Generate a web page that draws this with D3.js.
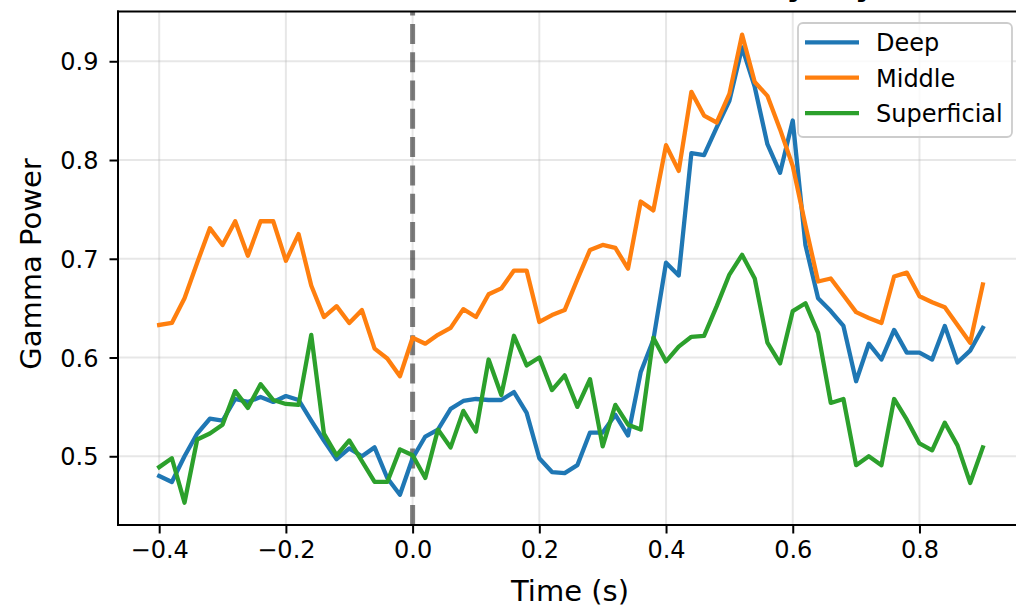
<!DOCTYPE html>
<html>
<head>
<meta charset="utf-8">
<script src="https://cdn.jsdelivr.net/npm/d3@7"></script>
<style>
  html, body { margin: 0; padding: 0; background: #fff; }
  svg { display: block; font-family: "DejaVu Sans", sans-serif; }
</style>
</head>
<body>
<svg id="chart" width="1016" height="608"></svg>
<script>
// ---------------- data ----------------
const times = [-0.40,-0.38,-0.36,-0.34,-0.32,-0.30,-0.28,-0.26,-0.24,-0.22,-0.20,-0.18,-0.16,-0.14,-0.12,-0.10,-0.08,-0.06,-0.04,-0.02,
  0.00,0.02,0.04,0.06,0.08,0.10,0.12,0.14,0.16,0.18,0.20,0.22,0.24,0.26,0.28,0.30,0.32,0.34,0.36,0.38,
  0.40,0.42,0.44,0.46,0.48,0.50,0.52,0.54,0.56,0.58,0.60,0.62,0.64,0.66,0.68,0.70,0.72,0.74,0.76,0.78,
  0.80,0.82,0.84,0.86,0.88,0.90];

const deep = [0.480,0.474,0.500,0.523,0.538,0.536,0.558,0.555,0.560,0.555,0.561,0.557,0.536,0.516,0.497,0.508,0.500,0.509,0.478,0.461,
  0.498,0.520,0.527,0.548,0.556,0.558,0.557,0.557,0.565,0.544,0.498,0.484,0.483,0.491,0.524,0.524,0.542,0.521,0.585,0.618,
  0.696,0.683,0.807,0.805,0.833,0.860,0.914,0.874,0.816,0.787,0.840,0.714,0.660,0.647,0.632,0.576,0.614,0.598,0.628,0.605,
  0.605,0.598,0.632,0.595,0.607,0.630];

const middle = [0.633,0.635,0.660,0.696,0.731,0.714,0.738,0.703,0.738,0.738,0.698,0.725,0.673,0.641,0.652,0.635,0.648,0.609,0.599,0.581,
  0.620,0.614,0.623,0.630,0.649,0.641,0.664,0.670,0.688,0.688,0.636,0.643,0.648,0.679,0.709,0.714,0.711,0.690,0.758,0.749,
  0.815,0.789,0.869,0.845,0.838,0.867,0.927,0.879,0.865,0.831,0.794,0.734,0.677,0.680,0.663,0.646,0.640,0.635,0.682,0.686,
  0.662,0.656,0.651,0.633,0.615,0.674];

const superficial = [0.489,0.498,0.453,0.517,0.523,0.532,0.566,0.549,0.573,0.557,0.553,0.552,0.623,0.523,0.501,0.516,0.495,0.474,0.474,0.507,
  0.501,0.478,0.527,0.509,0.546,0.525,0.598,0.562,0.622,0.592,0.600,0.567,0.582,0.550,0.578,0.510,0.552,0.532,0.527,0.620,
  0.596,0.611,0.621,0.622,0.652,0.684,0.704,0.680,0.615,0.594,0.647,0.655,0.625,0.554,0.558,0.491,0.500,0.491,0.558,0.537,
  0.513,0.506,0.534,0.511,0.473,0.509];

const seriesNames = ["Deep", "Middle", "Superficial"];
const seriesColors = ["#1f77b4", "#ff7f0e", "#2ca02c"];
const xTicks = [-0.4, -0.2, 0.0, 0.2, 0.4, 0.6, 0.8];
const yTicks = [0.5, 0.6, 0.7, 0.8, 0.9];
const eventTime = 0.0;
const titleText = "Gamma Power by Layer";
const xLabel = "Time (s)";
const yLabel = "Gamma Power";

// ---------------- layout ----------------
const L = 118, R = 1024, T = 11.5, B = 525;
const svg = d3.select("#chart");

const x = d3.scaleLinear().domain([-0.465, 0.965]).range([L, R]);
const y = d3.scaleLinear().domain([0.4304, 0.9504]).range([B, T]);

svg.append("defs").append("clipPath").attr("id", "plotclip")
  .append("rect").attr("x", L).attr("y", T).attr("width", R - L).attr("height", B - T);

// grid
const grid = svg.append("g");
grid.selectAll("line.gx").data(xTicks).join("line")
  .attr("x1", d => x(d)).attr("x2", d => x(d)).attr("y1", T).attr("y2", B)
  .attr("stroke", "#b0b0b0").attr("stroke-opacity", 0.3).attr("stroke-width", 2);
grid.selectAll("line.gy").data(yTicks).join("line")
  .attr("x1", L).attr("x2", R).attr("y1", d => y(d)).attr("y2", d => y(d))
  .attr("stroke", "#b0b0b0").attr("stroke-opacity", 0.3).attr("stroke-width", 2);

// event line
svg.append("line")
  .attr("clip-path", "url(#plotclip)")
  .attr("x1", x(eventTime)).attr("x2", x(eventTime))
  .attr("y1", B).attr("y2", T)
  .attr("stroke", "#000").attr("stroke-opacity", 0.5).attr("stroke-width", 5)
  .attr("stroke-dasharray", "20,8.3");

// lines
const seriesData = [deep, middle, superficial];
const line = d3.line().x((d, i) => x(times[i])).y(d => y(d));
const lines = svg.append("g").attr("clip-path", "url(#plotclip)");
seriesData.forEach((vals, k) => {
  lines.append("path").datum(vals)
    .attr("d", line)
    .attr("fill", "none")
    .attr("stroke", seriesColors[k])
    .attr("stroke-width", 4.3)
    .attr("stroke-linejoin", "round")
    .attr("stroke-linecap", "square");
});

// axes
const fs = 24;
const xAxis = d3.axisBottom(x).tickValues(xTicks).tickSize(8.5).tickPadding(8.5)
  .tickFormat(d => d3.format(".1f")(d).replace("-", "\u2212"));
const gx = svg.append("g").attr("transform", `translate(0,${B})`).call(xAxis);
gx.select(".domain").remove();
gx.selectAll(".tick line").attr("stroke", "#000").attr("stroke-width", 2);
gx.selectAll(".tick text").attr("font-size", fs).attr("fill", "#000")
  .attr("font-family", "DejaVu Sans").attr("dy", null).attr("y", 33);

const yAxis = d3.axisLeft(y).tickValues(yTicks).tickSize(8.5).tickPadding(8.5)
  .tickFormat(d3.format(".1f"));
const gy = svg.append("g").attr("transform", `translate(${L},0)`).call(yAxis);
gy.select(".domain").remove();
gy.selectAll(".tick line").attr("stroke", "#000").attr("stroke-width", 2);
gy.selectAll(".tick text").attr("font-size", fs).attr("fill", "#000")
  .attr("font-family", "DejaVu Sans").attr("dy", "0.36em").attr("x", -19.5);

// spines
const sp = svg.append("g").attr("stroke", "#000").attr("stroke-width", 2).attr("fill", "none");
sp.append("line").attr("x1", L).attr("x2", L).attr("y1", T - 1).attr("y2", B + 1);
sp.append("line").attr("x1", L - 1).attr("x2", R).attr("y1", B).attr("y2", B);
sp.append("line").attr("x1", L - 1).attr("x2", R).attr("y1", T).attr("y2", T);
sp.append("line").attr("x1", R).attr("x2", R).attr("y1", T).attr("y2", B);

// labels
const lfs = 29;
svg.append("text").attr("x", (L + R) / 2 - 1).attr("y", 601)
  .attr("text-anchor", "middle").attr("font-size", lfs).text(xLabel);
svg.append("text").attr("transform", "translate(41,264) rotate(-90)")
  .attr("text-anchor", "middle").attr("font-size", lfs).text(yLabel);

// title (mostly above the visible area, as in the reference)
svg.append("text").attr("x", 511).attr("y", -4)
  .attr("font-size", 30).attr("font-weight", "bold").text(titleText);

// legend
const lg = svg.append("g");
lg.append("rect").attr("x", 798).attr("y", 23).attr("width", 214).attr("height", 114)
  .attr("rx", 5).attr("fill", "#fff").attr("fill-opacity", 0.8)
  .attr("stroke", "#cccccc").attr("stroke-width", 1.8);
const rowY = [42.3, 77.7, 113.2];
seriesNames.forEach((name, k) => {
  lg.append("line").attr("x1", 805).attr("x2", 859).attr("y1", rowY[k]).attr("y2", rowY[k])
    .attr("stroke", seriesColors[k]).attr("stroke-width", 4.3);
  lg.append("text").attr("x", 876).attr("y", rowY[k] + 8.8)
    .attr("font-size", fs).attr("fill", "#000").text(name);
});
</script>
</body>
</html>
